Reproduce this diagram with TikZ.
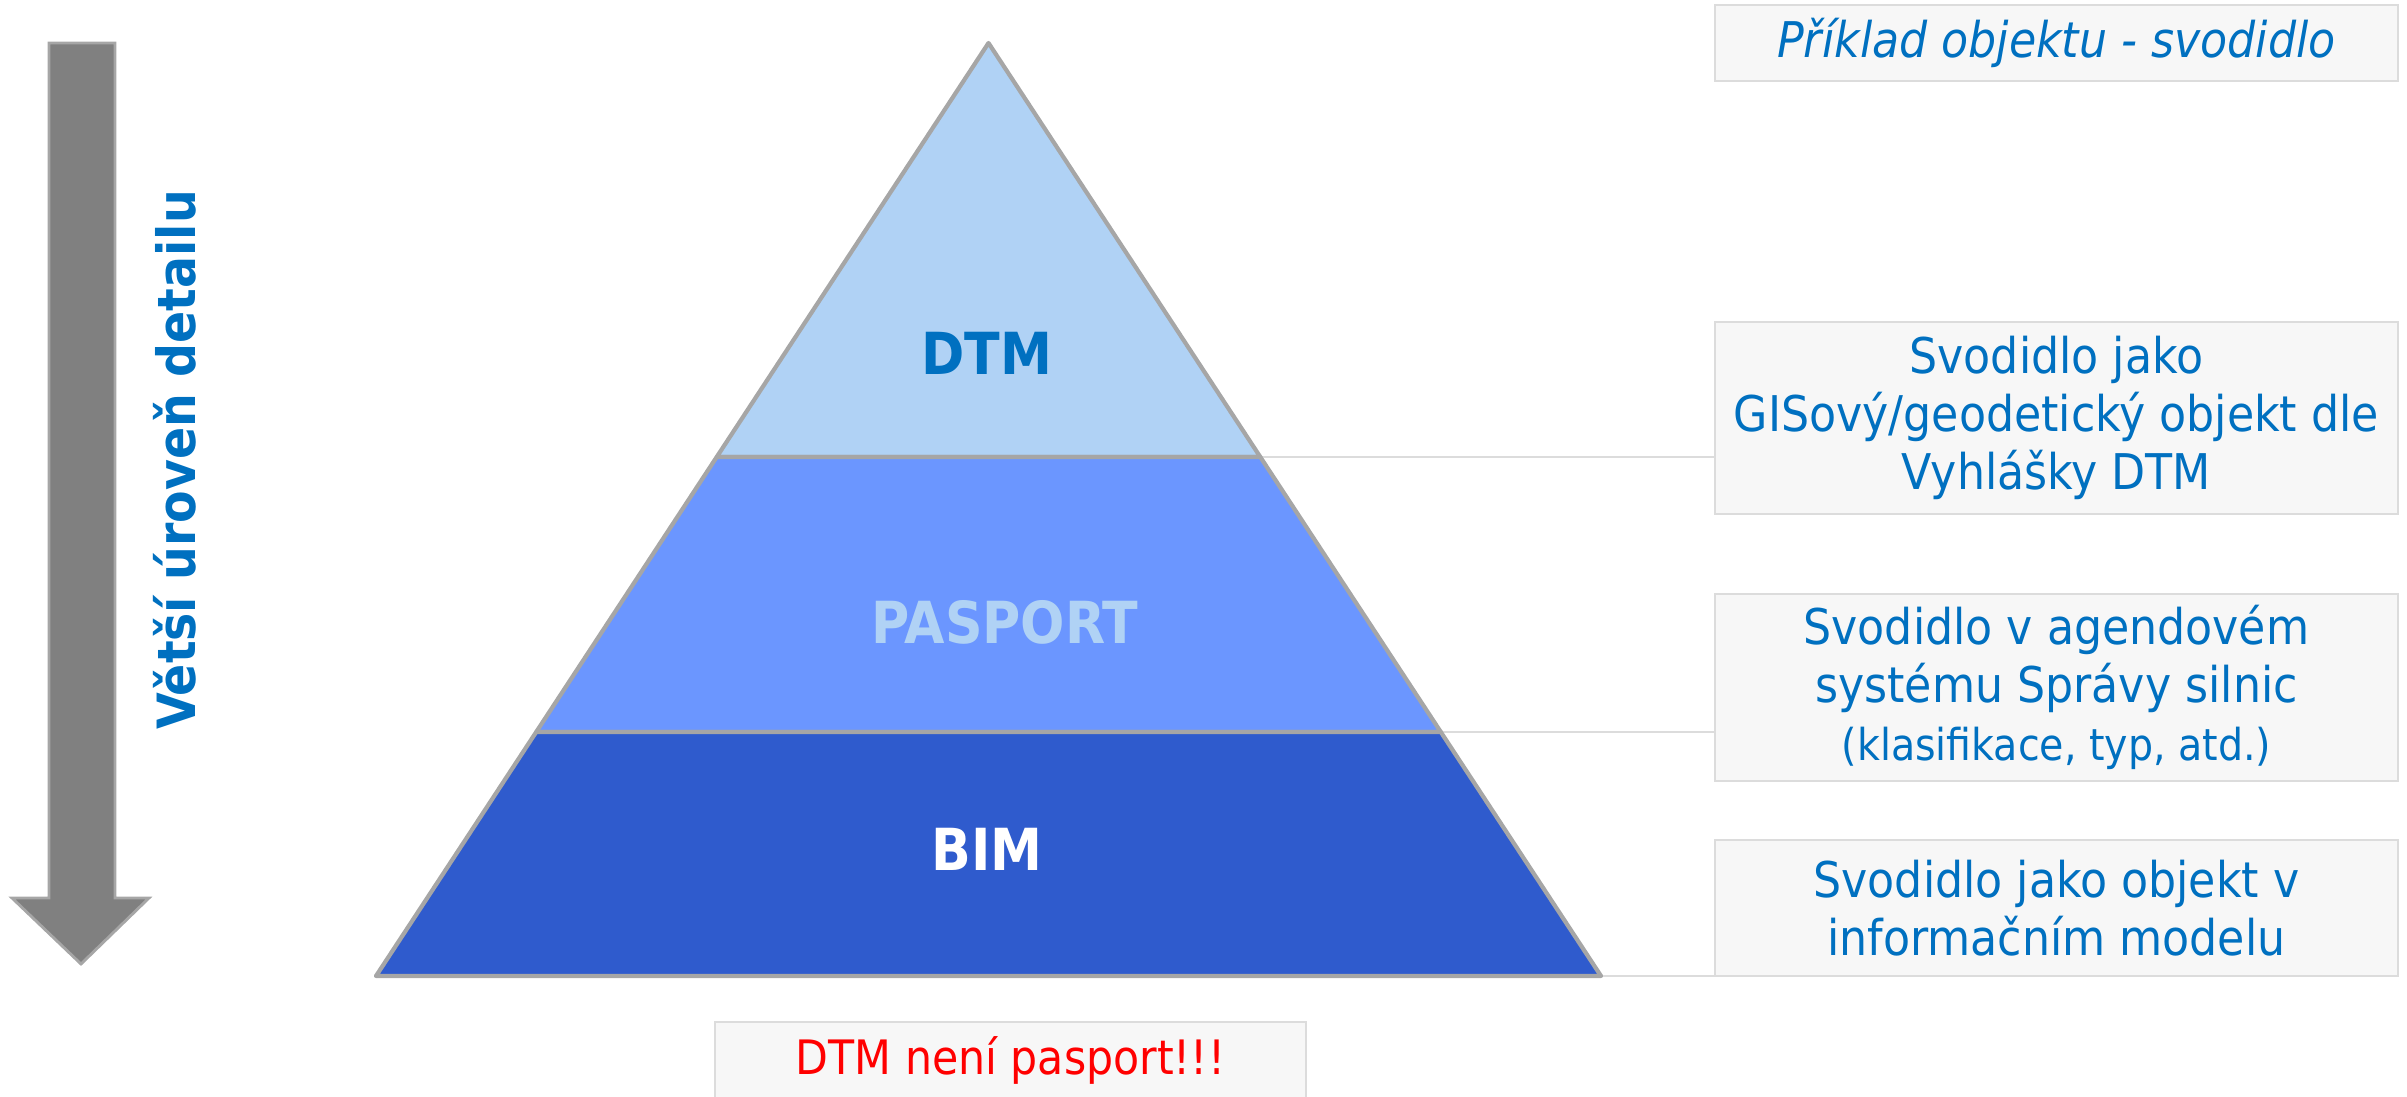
\documentclass[tikz,border=0pt]{standalone}
\usepackage{fontspec}
\setmainfont{DejaVu Sans Condensed}[
  BoldFont={DejaVu Sans Condensed Bold},
  ItalicFont={DejaVu Sans Condensed Oblique}]
\usetikzlibrary{calc}
\definecolor{T}{RGB}{0,112,192}
\definecolor{L1}{RGB}{176,210,245}
\definecolor{L2}{RGB}{107,150,255}
\definecolor{L3}{RGB}{47,91,205}
\definecolor{E}{RGB}{166,166,166}
\definecolor{K}{RGB}{247,247,247}
\definecolor{F}{RGB}{220,220,220}

\tikzset{
  popis/.style={draw=F, line width=0.8pt, fill=K, text=T, align=center,
    minimum width=6.83cm, inner sep=0pt, font=\fontsize{14}{16.5}\selectfont},
  vrstva/.style={draw=E, line width=1.2pt, line join=round},
  nadpis/.style={font=\fontsize{16.5}{19}\selectfont\bfseries},
  spoj/.style={draw=F, line width=0.8pt}
}

\begin{document}
\begin{tikzpicture}
  \useasboundingbox (0,0) rectangle (24.07,-10.97);

	%# SIPKA DETAILU
  \filldraw[fill=black!50, draw=E, line width=0.8pt] (0.49,-0.43) -- (1.15,-0.43) -- (1.15,-8.98) -- (1.49,-8.98)
    -- (0.81,-9.64) -- (0.12,-8.98) -- (0.49,-8.98) -- cycle;
  \node[rotate=90, text=T, font=\fontsize{15}{18}\selectfont\bfseries] (detail) at (1.75,-4.60) {Větší úroveň detailu};

	%# BODY PYRAMIDY
  \coordinate (apex) at (9.885,-0.43);
  \coordinate (d1l) at (7.167,-4.57);
  \coordinate (d1r) at (12.603,-4.57);
  \coordinate (d2l) at (5.362,-7.32);
  \coordinate (d2r) at (14.408,-7.32);
  \coordinate (bl) at (3.76,-9.76);
  \coordinate (br) at (16.01,-9.76);

	%# POPISY VPRAVO
  \node[popis, minimum height=0.76cm, font=\fontsize{14}{16.5}\selectfont\itshape] (priklad) at (20.565,-0.43) {Příklad objektu - svodidlo};
  \node[popis, minimum height=1.92cm] (gis) at (20.565,-4.18) {Svodidlo jako\\GISový/geodetický objekt dle\\Vyhlášky DTM};
  \node[popis, minimum height=1.87cm] (agenda) at (20.565,-6.875) {Svodidlo v agendovém\\systému Správy silnic\\{\fontsize{12.5}{15}\selectfont(klasifikace, typ, atd.)}};
  \node[popis, minimum height=1.36cm] (model) at (20.565,-9.08) {Svodidlo jako objekt v\\informačním modelu};

	%# SPOJNICE
  \draw[spoj] (d1r) -- (d1r -| gis.west);
  \draw[spoj] (d2r) -- (d2r -| agenda.west);
  \draw[spoj] (br) -- (br -| model.west);

	%# VRSTVY PYRAMIDY
  \filldraw[vrstva, fill=L1] (apex) -- (d1r) -- (d1l) -- cycle;
  \filldraw[vrstva, fill=L2] (d1l) -- (d1r) -- (d2r) -- (d2l) -- cycle;
  \filldraw[vrstva, fill=L3] (d2l) -- (d2r) -- (br) -- (bl) -- cycle;
  \node[nadpis, text=T] (dtm) at (9.87,-3.53) {DTM};
  \node[nadpis, text=L1] (pasport) at (10.05,-6.22) {PASPORT};
  \node[nadpis, text=white] (bim) at (9.87,-8.49) {BIM};

	%# POZNAMKA
  \node[popis, minimum width=5.91cm, minimum height=0.76cm, text=red, font=\fontsize{13.5}{16}\selectfont] (pozor) at (10.105,-10.6) {DTM není pasport!!!};
\end{tikzpicture}
\end{document}
